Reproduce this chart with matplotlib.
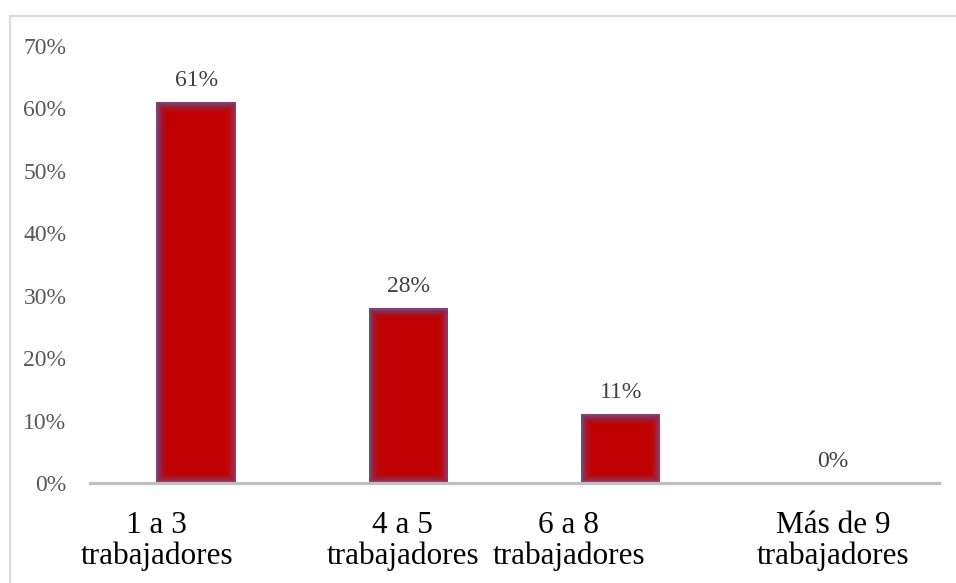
import matplotlib
matplotlib.use("Agg")
import matplotlib.pyplot as plt
from matplotlib.lines import Line2D
import numpy as np

categories = ["1 a 3\ntrabajadores", "4 a 5\ntrabajadores", "6 a 8\ntrabajadores", "Más de 9\ntrabajadores"]
values = [0.61, 0.28, 0.11, 0.0]
value_labels = ["61%", "28%", "11%", "0%"]
yticks = [0.0, 0.1, 0.2, 0.3, 0.4, 0.5, 0.6, 0.7]
ytick_labels = ["0%", "10%", "20%", "30%", "40%", "50%", "60%", "70%"]

# layout: horizontal shift of the category labels (as rendered in the original)
label_shift = [-0.185, -0.026, -0.245, 0.0]

plt.rcParams['font.family'] = ['Liberation Serif', 'DejaVu Serif']

fig = plt.figure(figsize=(9.56, 5.83), dpi=100)
ax = fig.add_axes([90/956, 1-483/583, (939-90)/956, (483-46)/583])

x = np.arange(len(categories))
bars = ax.bar(x, values, width=0.375, color="#C00000", edgecolor="none", linewidth=0, zorder=3)

# inner glow (soft purple edge) clipped to each bar
for patch in bars:
    for lw, a in [(14, 0.10), (10, 0.14), (7, 0.2), (4.5, 0.28), (2.5, 0.4)]:
        glow = ax.bar(patch.get_x() + patch.get_width() / 2, patch.get_height(),
                      width=patch.get_width(), fill=False, edgecolor="#6A5A9E",
                      linewidth=lw, alpha=a, zorder=3.5)
        for g in glow:
            g.set_clip_path(patch)

for xi, v, lab in zip(x, values, value_labels):
    ax.annotate(lab, (xi, v), xytext=(0, 8), textcoords="offset points",
                ha="center", va="bottom", fontsize=17, color="#404040")

ax.set_xlim(-0.5, len(categories) - 0.5)
ax.set_ylim(0, 0.70)
ax.set_yticks(yticks)
ax.set_yticklabels(ytick_labels, fontsize=17, color="#595959")
ax.set_xticks(x + np.array(label_shift))
ax.set_xticklabels(categories, fontsize=22.5, color="black", linespacing=1.07)
ax.tick_params(axis="both", length=0)
ax.tick_params(axis="y", pad=17)
ax.tick_params(axis="x", pad=20)

for s in ["top", "right", "left"]:
    ax.spines[s].set_visible(False)
ax.spines["bottom"].set_color("#BFBFBF")
ax.spines["bottom"].set_linewidth(2.3)
ax.spines["bottom"].set_zorder(4)

# chart area border (top and left visible)
fig.add_artist(Line2D([9.5/956, 9.5/956], [0, 1-15.5/583], color="#D9D9D9", linewidth=1.5, transform=fig.transFigure))
fig.add_artist(Line2D([9.5/956, 1], [1-15.5/583, 1-15.5/583], color="#D9D9D9", linewidth=1.5, transform=fig.transFigure))

fig.savefig("out.png", dpi=100)
